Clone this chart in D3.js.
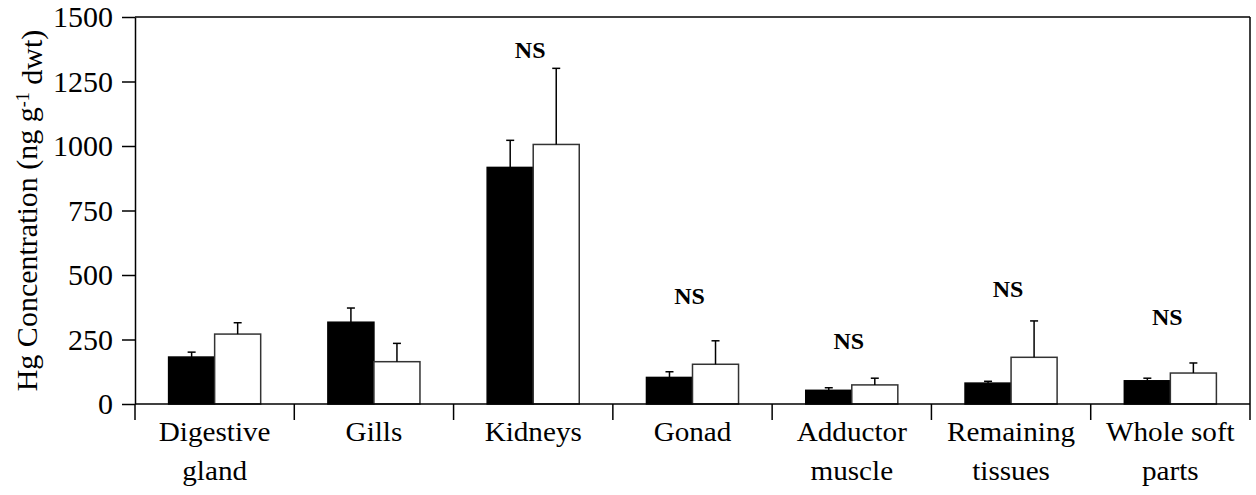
<!DOCTYPE html>
<html>
<head>
<meta charset="utf-8">
<script src="https://cdn.jsdelivr.net/npm/d3@7"></script>
<style>
  body { margin: 0; background: #fff; }
  svg text { font-family: "Liberation Serif", "Times New Roman", Times, "Nimbus Roman", "Nimbus Roman No9 L", serif; fill: #000; }
</style>
</head>
<body>
<div id="chart"></div>
<script>
// tissue categories (label lines)
var categories = [
	["Digestive", "gland"],
	["Gills"],
	["Kidneys"],
	["Gonad"],
	["Adductor", "muscle"],
	["Remaining", "tissues"],
	["Whole soft", "parts"]
];
// black bars / white bars, mean and SD (ng g-1 dwt)
var blackMean = [182, 317, 917, 103, 53, 81, 90];
var blackSD   = [19, 55, 105, 22, 10, 7, 10];
var whiteMean = [271, 164, 1006, 154, 74, 181, 120];
var whiteSD   = [44, 71, 295, 91, 26, 141, 39];
// significance labels and the value level they sit at
var sigLabels = ["", "", "NS", "NS", "NS", "NS", "NS"];
var sigLevel  = [0, 0, 1372, 419, 244, 446, 337];
var yTicks = [0, 250, 500, 750, 1000, 1250, 1500];

function DrawChart(selectid) {
	var width = 1256, height = 495;
	var left = 135, right = 1250, top = 17, bottom = 404;

	var svg = d3.select("#" + selectid).append("svg")
		.attr("width", width)
		.attr("height", height);

	var names = categories.map(function(d) { return d.join(" "); });

	var x = d3.scaleBand().domain(names).range([left, right]).paddingInner(0).paddingOuter(0);
	var xs = d3.scaleBand().domain(["black", "white"]).range([0, x.bandwidth()]).paddingInner(0).paddingOuter(0.73);
	var y = d3.scaleLinear().domain([0, 1500]).range([bottom, top]);

	var rows = names.map(function(n, i) {
		return { name: n, lines: categories[i],
			bars: [
				{ key: "black", mean: blackMean[i], sd: blackSD[i] },
				{ key: "white", mean: whiteMean[i], sd: whiteSD[i] }
			],
			sig: sigLabels[i], sigAt: sigLevel[i] };
	});

	// frame: top and right
	svg.append("line")
		.attr("x1", left).attr("x2", right).attr("y1", top).attr("y2", top)
		.style("stroke", "#000").style("stroke-width", 1.5);
	svg.append("line")
		.attr("x1", right).attr("x2", right).attr("y1", top).attr("y2", bottom)
		.style("stroke", "#000").style("stroke-width", 1.5);

	// bars
	var groups = svg.selectAll(".cat")
		.data(rows)
		.enter()
		.append("g")
			.attr("class", "cat")
			.attr("transform", function(d) { return "translate(" + x(d.name) + ",0)"; });

	groups.selectAll("rect")
		.data(function(d) { return d.bars; })
		.enter()
		.append("rect")
		.attr("x", function(d) { return xs(d.key); })
		.attr("y", function(d) { return y(d.mean); })
		.attr("width", xs.bandwidth())
		.attr("height", function(d) { return y(0) - y(d.mean); })
		.attr("fill", function(d) { return d.key == "black" ? "#000" : "#fff"; })
		.style("stroke", function(d) { return d.key == "black" ? "#000" : "#333"; })
		.style("stroke-width", 1.5);

	// error bars (upper only)
	var errs = groups.selectAll(".err")
		.data(function(d) { return d.bars; })
		.enter()
		.append("g")
			.attr("class", "err");

	errs.append("line")
		.attr("x1", function(d) { return xs(d.key) + xs.bandwidth() / 2; })
		.attr("x2", function(d) { return xs(d.key) + xs.bandwidth() / 2; })
		.attr("y1", function(d) { return y(d.mean); })
		.attr("y2", function(d) { return y(d.mean + d.sd); })
		.style("stroke", "#000").style("stroke-width", 1.5);

	errs.append("line")
		.attr("x1", function(d) { return xs(d.key) + xs.bandwidth() / 2 - 4; })
		.attr("x2", function(d) { return xs(d.key) + xs.bandwidth() / 2 + 4; })
		.attr("y1", function(d) { return y(d.mean + d.sd); })
		.attr("y2", function(d) { return y(d.mean + d.sd); })
		.style("stroke", "#000").style("stroke-width", 1.5);

	// NS labels
	groups.filter(function(d) { return d.sig != ""; })
		.append("text")
		.attr("x", x.bandwidth() / 2 - 3)
		.attr("y", function(d) { return y(d.sigAt); })
		.attr("dy", "0.35em")
		.attr("text-anchor", "middle")
		.style("font-size", "24px")
		.style("font-weight", "bold")
		.text(function(d) { return d.sig; });

	// y axis
	var yAxis = svg.append("g")
		.attr("transform", "translate(" + left + ",0)")
		.call(d3.axisLeft(y).tickValues(yTicks).tickFormat(d3.format("d")).tickSize(13).tickPadding(9).tickSizeOuter(0));
	yAxis.attr("font-family", null);
	yAxis.select(".domain").style("stroke", "#000").style("stroke-width", 1.5);
	yAxis.selectAll(".tick line").style("stroke", "#000").style("stroke-width", 1.5);
	yAxis.selectAll(".tick text").style("font-size", "30px");

	// x axis baseline
	svg.append("line")
		.attr("x1", left).attr("x2", right).attr("y1", y(0)).attr("y2", y(0))
		.style("stroke", "#000").style("stroke-width", 1.5);

	// category boundary ticks
	var bounds = names.map(function(n) { return x(n); }).concat([x.range()[1]]);
	svg.selectAll(".xtick")
		.data(bounds)
		.enter()
		.append("line")
		.attr("class", "xtick")
		.attr("x1", function(d) { return d; })
		.attr("x2", function(d) { return d; })
		.attr("y1", y(0))
		.attr("y2", y(0) + 16)
		.style("stroke", "#000").style("stroke-width", 1.5);

	// category labels
	var labels = svg.selectAll(".xlab")
		.data(rows)
		.enter()
		.append("text")
		.attr("class", "xlab")
		.attr("text-anchor", "middle")
		.attr("transform", function(d) { return "translate(" + (x(d.name) + x.bandwidth() / 2) + ",441) scale(1.08,1)"; })
		.style("font-size", "27px");

	labels.selectAll("tspan")
		.data(function(d) { return d.lines; })
		.enter()
		.append("tspan")
		.attr("x", 0)
		.attr("y", function(d, i) { return i * 39; })
		.text(function(d) { return d; });

	// y title
	var title = svg.append("text")
		.attr("transform", "translate(37," + ((top + bottom) / 2) + ") rotate(-90)")
		.attr("text-anchor", "middle")
		.style("font-size", "30px");
	title.append("tspan").text("Hg Concentration (ng g");
	title.append("tspan").attr("dy", "-0.45em").style("font-size", "18px").text("-1");
	title.append("tspan").attr("dy", "0.45em").text(" dwt)");
}

DrawChart("chart");
</script>
</body>
</html>
